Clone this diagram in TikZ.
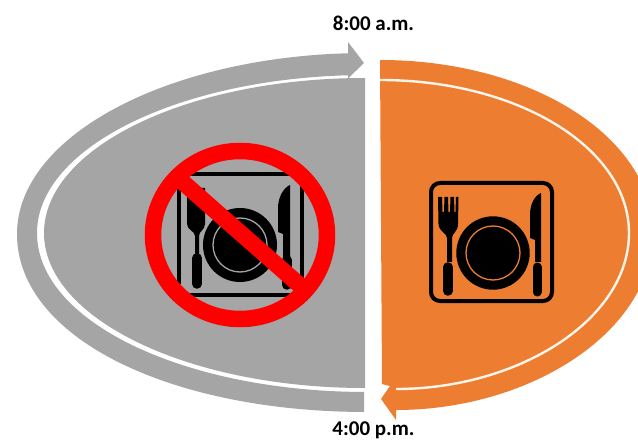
\documentclass[tikz,border=0pt]{standalone}
\usepackage{fontspec}
\setmainfont{Carlito}
\definecolor{grayfill}{HTML}{A5A5A5}
\definecolor{orangefill}{HTML}{ED7D31}
\definecolor{nored}{HTML}{FF0000}
\tikzset{
  label text/.style={font=\bfseries\fontsize{21}{24}\selectfont,text=black,inner sep=0pt,anchor=base},
  rule line/.style={draw=white!92!orange,line width=2.4pt},
  frame/.style={draw=black,line width=4pt,rounded corners=9pt},
  handle/.style={draw=black,line width=9.5pt,line cap=round},
  bar/.style={draw=black,line width=4.6pt}
}
\begin{document}
\begin{tikzpicture}[x=1pt,y=-1pt]
\useasboundingbox (0,0) rectangle (638,441);
\clip (0,0) rectangle (638,441);
\fill[white] (0,0) rectangle (638,441);
% gray half
\fill[grayfill] (365,78) .. controls (187,78) and (44,148) .. (44,233)
   .. controls (44,318) and (187,388) .. (365,388) -- cycle;
% gray ring
\begin{scope}
  \clip (0,0) -- (348,0) -- (348,233) -- (364,233) -- (364,441) -- (0,441) -- cycle;
  \fill[grayfill,even odd rule] (367,53) .. controls (174,53) and (17,134) .. (17,234)
     .. controls (17,338) and (170,412) .. (367,412) -- (367,392)
     .. controls (185,392) and (37,322) .. (37,233)
     .. controls (37,146) and (185,75) .. (367,75) -- cycle;
\end{scope}
% arrowhead
\fill[grayfill] (348,42) -- (364,63) -- (348,78.5) -- cycle;
% orange half
\fill[orangefill] (380,60) .. controls (531,60) and (653,137) .. (653,233)
   .. controls (653,331) and (531,410) .. (396,410) -- (396,420) -- (381,399)
   -- (390,386) -- (382,384) -- cycle;
\draw[rule line] (380,80) .. controls (518,80) and (629,148) .. (629,233)
   .. controls (629,320) and (518,389) .. (396,389);
% plate icon
\draw[frame] (431,183) rectangle (552,301);
\fill[black] (493,253) circle (36.7);
\draw[orangefill,line width=1.3pt] (493,253) circle (27);
% fork
\fill[black] (438,197) -- (442,197) -- (442.5,212) -- (444,212) -- (444.5,197) -- (448,197) -- (448.5,212) -- (450,212) -- (450.5,197) -- (454,197) -- (454.5,212) -- (455.5,212) -- (456,197) -- (458.5,197)
   -- (458,224) .. controls (458,232) and (452,233) .. (452,238) -- (452,262) -- (447,262) -- (447,238)
   .. controls (447,233) and (439,232) .. (438.5,224) -- cycle;
\draw[handle] (448,267) -- (448,291);
% knife
\fill[black] (541,193) -- (541,262) -- (535,262) -- (535,240) -- (530,238) -- (530,215) .. controls (530,205) and (534,196) .. (541,193) -- cycle;
\draw[handle,line width=9pt] (537,267) -- (537,292);
% crossed icon
\draw[bar] (190,174) -- (290,174);
\draw[bar] (190,295) -- (290,295);
\draw[bar] (179,185) -- (179,284);
\draw[bar] (302,185) -- (302,284);
\fill[black] (240,245) circle (37);
\draw[grayfill,line width=1.3pt] (240,245) circle (27);
\fill[black] (187,188) -- (205,188) -- (205,224) .. controls (205,230) and (199,231) .. (199,236) -- (199,256) -- (195,256) -- (195,236)
   .. controls (195,231) and (187,230) .. (187,224) -- cycle;
\draw[handle] (197,258) -- (197,284);
\fill[black] (290,185) -- (290,262) -- (283,262) -- (283,234) -- (278,232) -- (278,208) .. controls (278,198) and (283,188) .. (290,185) -- cycle;
\draw[handle] (287,260) -- (287,285);
\draw[nored,line width=16.5pt] (240,235) ellipse (87 and 84);
\draw[nored,line width=16.5pt] (178,178) -- (304,289);
\node[label text] (top) at (373.5,31) {8:00 a.m.};
\node[label text] (bot) at (373.5,435.5) {4:00 p.m.};
\end{tikzpicture}
\end{document}
